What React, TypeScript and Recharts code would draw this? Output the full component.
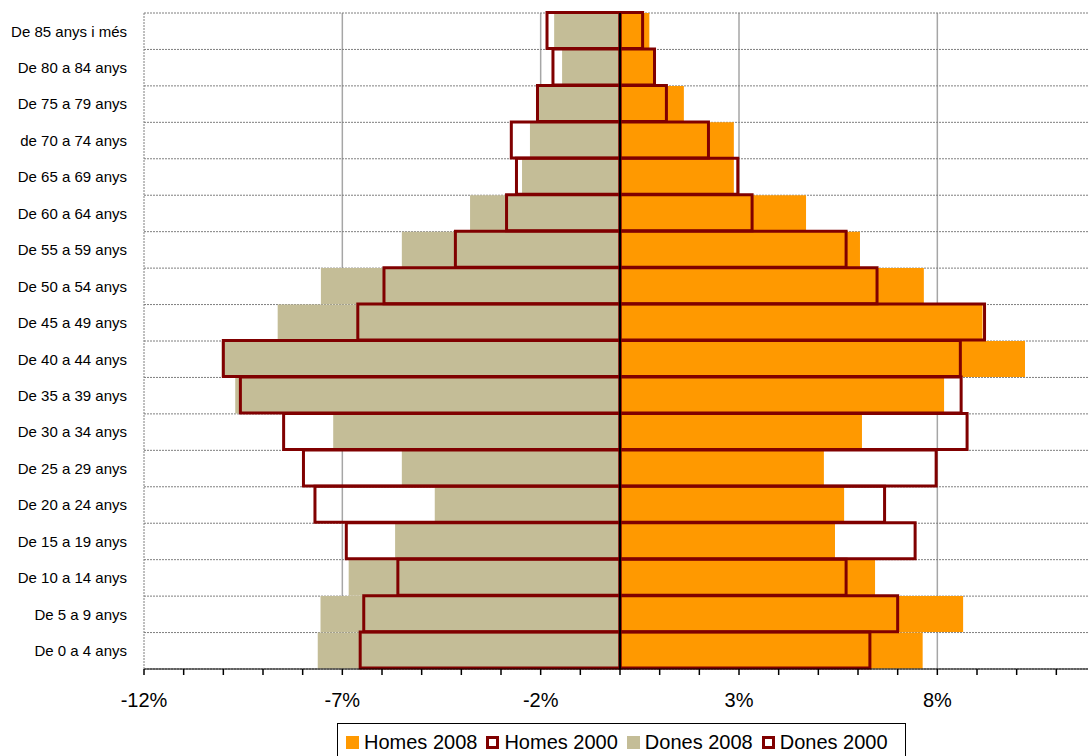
import React from "react";
import {
  BarChart,
  Bar,
  XAxis,
  YAxis,
  CartesianGrid,
  ReferenceLine,
} from "recharts";

const ageGroups = [
  "De 85 anys i més",
  "De 80 a 84 anys",
  "De 75 a 79 anys",
  "de 70 a 74 anys",
  "De 65 a 69 anys",
  "De 60 a 64 anys",
  "De 55 a 59 anys",
  "De 50 a 54 anys",
  "De 45 a 49 anys",
  "De 40 a 44 anys",
  "De 35 a 39 anys",
  "De 30 a 34 anys",
  "De 25 a 29 anys",
  "De 20 a 24 anys",
  "De 15 a 19 anys",
  "De 10 a 14 anys",
  "De 5 a 9 anys",
  "De 0 a 4 anys",
];

const homes2008 = [0.74, 0.84, 1.61, 2.87, 2.87, 4.69, 6.05, 7.66, 9.14, 10.21, 8.17, 6.1, 5.14, 5.65, 5.42, 6.43, 8.65, 7.63];
const homes2000 = [0.57, 0.87, 1.17, 2.23, 2.97, 3.33, 5.7, 6.48, 9.19, 8.58, 8.6, 8.75, 7.97, 6.67, 7.44, 5.7, 7.0, 6.3];
const dones2008 = [-1.66, -1.46, -2.05, -2.27, -2.47, -3.78, -5.5, -7.54, -8.63, -10.04, -9.7, -7.23, -5.5, -4.67, -5.67, -6.84, -7.55, -7.62];
const dones2000 = [-1.84, -1.69, -2.08, -2.74, -2.61, -2.86, -4.15, -5.95, -6.61, -10.0, -9.57, -8.48, -7.98, -7.69, -6.9, -5.6, -6.46, -6.55];

const xTicks = [-12, -11, -10, -9, -8, -7, -6, -5, -4, -3, -2, -1, 0, 1, 2, 3, 4, 5, 6, 7, 8, 9, 10, 11, 12];
const xLabelTicks = [-12, -7, -2, 3, 8];
const majorGridTicks = [-7, -2, 3, 8];

const ORANGE = "#FF9900";
const TAN = "#C4BD97";
const MAROON = "#800000";
const FONT = "'Liberation Sans', Arial, sans-serif";

const data = ageGroups.map((age, i) => ({
  age,
  h2008: homes2008[i],
  d2008: dones2008[i],
  h2000: homes2000[i],
  d2000: dones2000[i],
}));

const legendItems = [
  { label: "Homes 2008", kind: "fill", color: ORANGE },
  { label: "Homes 2000", kind: "outline", color: MAROON },
  { label: "Dones 2008", kind: "fill", color: TAN },
  { label: "Dones 2000", kind: "outline", color: MAROON },
];

// horizontal grid lines at the boundaries between age-group bands
const bandBoundaries = ({ offset }: any) => {
  const n = ageGroups.length;
  const out: number[] = [];
  for (let i = 0; i <= n; i++) out.push(offset.top + (i * offset.height) / n);
  return out;
};

export default function App() {
  return (
    <div
      style={{
        position: "absolute",
        left: 0,
        top: 0,
        width: 1088,
        height: 756,
        overflow: "hidden",
        background: "#fff",
      }}
    >
      <BarChart
        width={1100}
        height={756}
        data={data}
        layout="vertical"
        stackOffset="sign"
        barCategoryGap={0}
        barGap="-100%"
        margin={{ top: 13, right: 4, bottom: 37, left: 0 }}
      >
        <CartesianGrid
          horizontal={false}
          verticalValues={majorGridTicks}
          stroke="#A6A6A6"
          strokeWidth={1.5}
        />
        <CartesianGrid
          vertical={false}
          horizontalCoordinatesGenerator={bandBoundaries}
          stroke="#7F7F7F"
          strokeDasharray="2 1"
        />
        <XAxis
          type="number"
          domain={[-12, 12]}
          ticks={xTicks}
          interval={0}
          allowDataOverflow
          height={50}
          tickSize={6}
          tickMargin={18}
          axisLine={{ stroke: "#000", strokeWidth: 1 }}
          tickLine={{ stroke: "#000", strokeWidth: 1.5 }}
          tick={{ fontSize: 20, fill: "#000", fontFamily: FONT }}
          tickFormatter={(v) => (xLabelTicks.includes(v) ? `${v}%` : "")}
        />
        <YAxis
          type="category"
          dataKey="age"
          width={144}
          interval={0}
          tickLine={false}
          tickSize={0}
          tickMargin={17}
          axisLine={{ stroke: "#7F7F7F", strokeDasharray: "2 1" }}
          tick={{ fontSize: 15, fill: "#000", fontFamily: FONT }}
        />
        <Bar dataKey="h2008" stackId="y2008" fill={ORANGE} isAnimationActive={false} />
        <Bar dataKey="d2008" stackId="y2008" fill={TAN} isAnimationActive={false} />
        <Bar
          dataKey="h2000"
          stackId="y2000"
          fill="none"
          stroke={MAROON}
          strokeWidth={3}
          isAnimationActive={false}
        />
        <Bar
          dataKey="d2000"
          stackId="y2000"
          fill="none"
          stroke={MAROON}
          strokeWidth={3}
          isAnimationActive={false}
        />
        <ReferenceLine x={0} stroke="#000" strokeWidth={2} />
      </BarChart>
      <div
        style={{
          position: "absolute",
          left: 337,
          top: 723,
          width: 569,
          height: 40,
          border: "1.5px solid #000",
          background: "#fff",
          boxSizing: "border-box",
          display: "flex",
          alignItems: "flex-start",
          paddingLeft: 8,
          paddingTop: 6,
          fontFamily: FONT,
          fontSize: 20,
          lineHeight: "24px",
          color: "#000",
        }}
      >
        {legendItems.map((it, i) => (
          <div
            key={it.label}
            style={{
              display: "flex",
              alignItems: "center",
              marginLeft: i === 0 ? 0 : 9,
            }}
          >
            <span
              style={{
                display: "inline-block",
                width: 13,
                height: 13,
                boxSizing: "border-box",
                background: it.kind === "fill" ? it.color : "#fff",
                border: it.kind === "outline" ? `3px solid ${it.color}` : "none",
                marginRight: 5,
              }}
            />
            <span>{it.label}</span>
          </div>
        ))}
      </div>
    </div>
  );
}
